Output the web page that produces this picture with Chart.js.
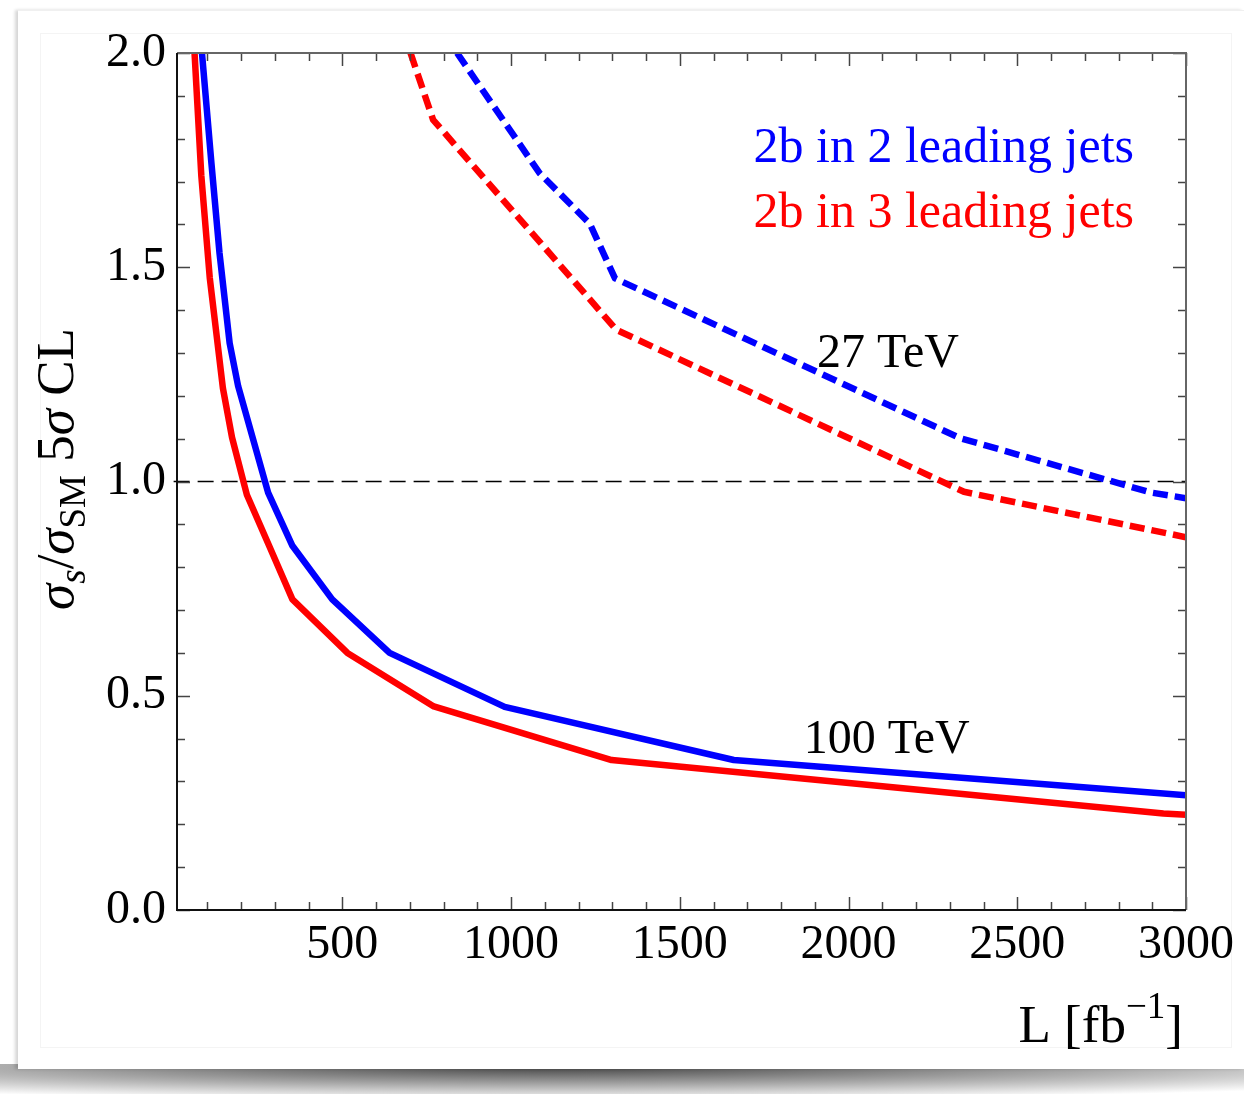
<!DOCTYPE html>
<html>
<head>
<meta charset="utf-8">
<script src="https://cdn.jsdelivr.net/npm/chart.js@4.4.1/dist/chart.umd.min.js"></script>
<style>
  html, body { margin: 0; padding: 0; background: #fff; }
  body { width: 1244px; height: 1094px; position: relative; overflow: hidden; }
  #shadowB {
    position: absolute; left: 0; top: 1064px; width: 1244px; height: 30px;
    background: radial-gradient(ellipse 80% 110% at 45% 10%, rgba(60,60,60,0.95), rgba(130,130,130,0.6) 60%, rgba(255,255,255,0) 100%);
  }
  #card {
    position: absolute; left: 18px; top: 10px; width: 1226px; height: 1058px;
    background: #fff; border-top: 1px solid #f0f0f0;
    box-shadow: -3px 0 3px rgba(0,0,0,0.16);
  }
  #inner {
    position: absolute; left: 40px; top: 33px; width: 1190px; height: 1013px;
    border: 1px solid #f4f4f4;
  }
  #myChart { position: absolute; left: 0; top: 0; }
</style>
</head>
<body>
<div id="shadowB"></div>
<div id="card"></div>
<div id="inner"></div>
<canvas id="myChart" width="1244" height="1094"></canvas>
<script>
const serif = '"Liberation Serif", "Times New Roman", serif';

// 100 TeV, 2b in 2 leading jets
const lumi100Lead2 = [84, 112, 136, 166, 191, 280, 352, 470, 640, 981, 1660, 3000];
const sigma100Lead2 = [2.0, 1.743, 1.533, 1.323, 1.223, 0.974, 0.850, 0.725, 0.600, 0.474, 0.350, 0.268];
// 100 TeV, 2b in 3 leading jets
const lumi100Lead3 = [62, 82, 107, 146, 173, 217, 283, 352, 515, 771, 1298, 2933, 3000];
const sigma100Lead3 = [2.0, 1.714, 1.476, 1.218, 1.103, 0.969, 0.850, 0.725, 0.600, 0.475, 0.350, 0.225, 0.222];
// 27 TeV, 2b in 2 leading jets
const lumi27Lead2 = [840, 1085, 1233, 1308, 2331, 2898, 3000];
const sigma27Lead2 = [2.0, 1.719, 1.602, 1.474, 1.101, 0.974, 0.961];
// 27 TeV, 2b in 3 leading jets
const lumi27Lead3 = [702, 769, 1312, 2342, 3000];
const sigma27Lead3 = [2.0, 1.844, 1.354, 0.976, 0.870];

const legendLabels = ['2b in 2 leading jets', '2b in 3 leading jets'];
const legendColors = ['#0000ff', '#ff0000'];
const energyLabels = ['27 TeV', '100 TeV'];

const xTicks = [500, 1000, 1500, 2000, 2500, 3000];
const yTicks = [0.0, 0.5, 1.0, 1.5, 2.0];

function pts(xs, ys) {
  return xs.map((v, i) => ({x: v, y: ys[i]}));
}

function curve(label, xs, ys, color, dashed) {
  return {
    label: label,
    data: pts(xs, ys),
    borderColor: color,
    borderWidth: 6.5,
    borderDash: dashed ? [15, 7] : [],
    borderJoinStyle: 'round',
    pointRadius: 0,
    tension: 0,
    fill: false,
    clip: 0
  };
}

// text with italic, sub- and superscript pieces
function richWidth(ctx, parts, size) {
  let w = 0;
  parts.forEach(p => {
    const s = (p.sub || p.sup) ? size * 0.7 : size;
    ctx.font = (p.it ? 'italic ' : '') + s + 'px ' + serif;
    w += ctx.measureText(p.t).width;
  });
  return w;
}
function drawRich(ctx, parts, x, y, size) {
  let cx = x;
  parts.forEach(p => {
    const s = (p.sub || p.sup) ? size * 0.7 : size;
    ctx.font = (p.it ? 'italic ' : '') + s + 'px ' + serif;
    const dy = p.sub ? size * 0.22 : (p.sup ? -size * 0.46 : 0);
    ctx.fillText(p.t, cx, y + dy);
    cx += ctx.measureText(p.t).width;
  });
}

const framePlugin = {
  id: 'frame',
  afterDatasetsDraw(chart) {
    const {ctx, chartArea: a, scales: {x, y}} = chart;
    ctx.save();
    ctx.lineCap = 'butt';
    // minor and major ticks on all four sides, pointing inward
    ctx.strokeStyle = '#444';
    ctx.lineWidth = 1.5;
    ctx.beginPath();
    for (let v = 100; v <= 3000; v += 100) {
      const px = Math.round(x.getPixelForValue(v)) + 0.5;
      const len = v % 500 === 0 ? 13 : 8;
      ctx.moveTo(px, a.bottom); ctx.lineTo(px, a.bottom - len);
      ctx.moveTo(px, a.top); ctx.lineTo(px, a.top + len);
    }
    for (let i = 0; i <= 20; i++) {
      const py = Math.round(y.getPixelForValue(i / 10)) + 0.5;
      const len = i % 5 === 0 ? 13 : 8;
      ctx.moveTo(a.left, py); ctx.lineTo(a.left + len, py);
      ctx.moveTo(a.right, py); ctx.lineTo(a.right - len, py);
    }
    ctx.stroke();
    // frame
    ctx.lineWidth = 2;
    ctx.strokeStyle = '#666';
    ctx.beginPath();
    ctx.moveTo(a.left, a.top); ctx.lineTo(a.right, a.top); ctx.lineTo(a.right, a.bottom);
    ctx.stroke();
    ctx.strokeStyle = '#111';
    ctx.beginPath();
    ctx.moveTo(a.left, a.top); ctx.lineTo(a.left, a.bottom); ctx.lineTo(a.right, a.bottom);
    ctx.stroke();
    ctx.restore();
  },
  afterDraw(chart) {
    const {ctx, chartArea: a, scales: {x, y}} = chart;
    ctx.save();
    ctx.textBaseline = 'alphabetic';

    // legend, one line per jet selection
    ctx.font = '50px ' + serif;
    ctx.textAlign = 'right';
    legendLabels.forEach((t, i) => {
      ctx.fillStyle = legendColors[i];
      ctx.fillText(t, x.getPixelForValue(2846), y.getPixelForValue(1.745 - i * 0.152));
    });

    // collider energy labels
    ctx.fillStyle = '#000';
    ctx.font = '48px ' + serif;
    ctx.textAlign = 'center';
    ctx.fillText(energyLabels[0], x.getPixelForValue(2117), y.getPixelForValue(1.267));
    ctx.fillText(energyLabels[1], x.getPixelForValue(2113), y.getPixelForValue(0.366));

    // axis titles
    ctx.textAlign = 'left';
    const xTitle = [{t: 'L [fb'}, {t: '\u22121', sup: true}, {t: ']'}];
    const xw = richWidth(ctx, xTitle, 53);
    drawRich(ctx, xTitle, a.right - 3 - xw, 1042, 53);

    const yTitle = [
      {t: '\u03c3', it: true}, {t: 's', it: true, sub: true}, {t: '/'},
      {t: '\u03c3', it: true}, {t: 'SM', sub: true}, {t: ' 5'},
      {t: '\u03c3', it: true}, {t: ' CL'}
    ];
    const yw = richWidth(ctx, yTitle, 53);
    ctx.translate(73, 469);
    ctx.rotate(-Math.PI / 2);
    drawRich(ctx, yTitle, -yw / 2, 0, 53);
    ctx.restore();
  }
};

const tickFont = {family: serif, size: 48};

new Chart('myChart', {
  type: 'line',
  data: {
    datasets: [
      curve('100 TeV, ' + legendLabels[0], lumi100Lead2, sigma100Lead2, legendColors[0], false),
      curve('100 TeV, ' + legendLabels[1], lumi100Lead3, sigma100Lead3, legendColors[1], false),
      curve('27 TeV, ' + legendLabels[0], lumi27Lead2, sigma27Lead2, legendColors[0], true),
      curve('27 TeV, ' + legendLabels[1], lumi27Lead3, sigma27Lead3, legendColors[1], true),
      {
        label: '5\u03c3 line',
        data: [{x: 0, y: 1}, {x: 3000, y: 1}],
        borderColor: '#000',
        borderWidth: 1.5,
        borderDash: [16, 8],
        pointRadius: 0,
        fill: false,
        clip: {left: 5, top: 0, right: 0, bottom: 0}
      }
    ]
  },
  options: {
    responsive: false,
    animation: false,
    layout: {padding: {left: 40, right: 58, top: 53, bottom: 84}},
    plugins: {legend: {display: false}, tooltip: {enabled: false}},
    scales: {
      x: {
        type: 'linear',
        min: 10,
        max: 3000,
        grid: {display: false, drawTicks: false},
        border: {display: false},
        afterBuildTicks: s => { s.ticks = xTicks.map(v => ({value: v})); },
        afterFit: s => { s.height = 100; },
        ticks: {font: tickFont, color: '#000', padding: 7, maxRotation: 0, autoSkip: false,
                callback: v => String(v)}
      },
      y: {
        type: 'linear',
        min: 0,
        max: 2,
        grid: {display: false, drawTicks: false},
        border: {display: false},
        afterBuildTicks: s => { s.ticks = yTicks.map(v => ({value: v})); },
        afterFit: s => { s.width = 137; },
        ticks: {font: tickFont, color: '#000', padding: 11, callback: v => v.toFixed(1)}
      }
    }
  },
  plugins: [framePlugin]
});
</script>
</body>
</html>
